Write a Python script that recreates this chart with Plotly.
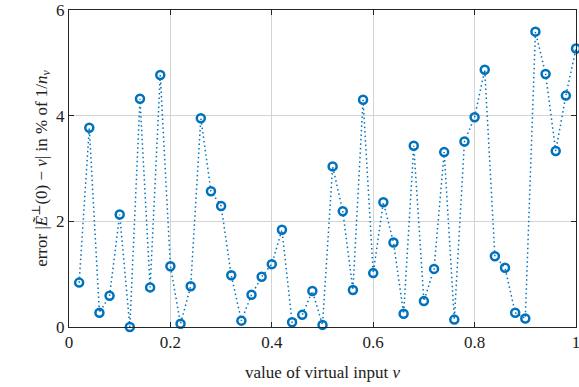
import plotly.graph_objects as go

nu = [round(0.02 * i, 2) for i in range(1, 51)]
err = [0.84, 3.77, 0.27, 0.59, 2.13, 0.00, 4.32, 0.75, 4.77, 1.15,
       0.06, 0.77, 3.95, 2.57, 2.29, 0.98, 0.12, 0.61, 0.95, 1.19,
       1.84, 0.09, 0.23, 0.68, 0.04, 3.04, 2.19, 0.70, 4.30, 1.02,
       2.36, 1.60, 0.25, 3.43, 0.49, 1.10, 3.31, 0.14, 3.51, 3.97,
       4.87, 1.34, 1.12, 0.27, 0.16, 5.59, 4.79, 3.33, 4.38, 5.27]
xticks = [0, 0.2, 0.4, 0.6, 0.8, 1]
xticklabels = ["0", "0.2", "0.4", "0.6", "0.8", "1"]
yticks = [0, 2, 4, 6]

blue = "#0072BD"
font = "Liberation Serif, DejaVu Serif, serif"

fig = go.Figure()
fig.add_trace(go.Scatter(
    x=nu, y=err, mode="lines+markers",
    line=dict(color=blue, width=1.5, dash="1.5px,3px"),
    marker=dict(symbol="circle-open", size=8, color=blue,
                line=dict(width=2.5, color=blue)),
    cliponaxis=False, showlegend=False,
))

axis_common = dict(
    showline=True, linecolor="#262626", linewidth=1, mirror="allticks",
    showgrid=True, gridcolor="#d4d4d4", gridwidth=1,
    ticks="inside", ticklen=5, tickcolor="#262626",
    zeroline=False, automargin=False, ticklabeloverflow="allow",
    tickfont=dict(family=font, size=17, color="#222"),
)

fig.update_xaxes(range=[0, 1], tickvals=xticks, ticktext=xticklabels,
                 title=dict(text="value of virtual input <i>ν</i>",
                            font=dict(family=font, size=17, color="#222"),
                            standoff=14),
                 **axis_common)
fig.update_yaxes(range=[0, 6], tickvals=yticks,
                 title=dict(text="error |<i>E\u0303</i><sup>⊥</sup>(0) − <i>ν</i>| in % of 1/<i>n</i><sub><i>ν</i></sub>",
                            font=dict(family=font, size=17, color="#222"),
                            standoff=4),
                 **axis_common)

fig.update_layout(
    width=579, height=387,
    margin=dict(l=69, r=3, t=10, b=60),
    plot_bgcolor="white", paper_bgcolor="white",
)

fig.write_html("out.html")
